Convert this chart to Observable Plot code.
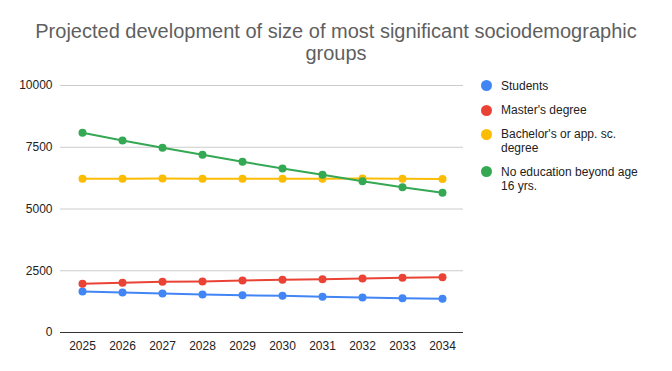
<!DOCTYPE html>
<html>
<head>
<meta charset="utf-8">
<script src="https://cdn.jsdelivr.net/npm/d3@7"></script>
<script src="https://cdn.jsdelivr.net/npm/@observablehq/plot@0.6"></script>
<style>
  html, body { margin: 0; padding: 0; background: #fff; }
  #wrap { position: relative; width: 672px; height: 371px; font-family: "Liberation Sans", Arial, sans-serif; }
  #title { position: absolute; left: 0; top: 20px; width: 672px; text-align: center; font-size: 20px; line-height: 22px; color: #5f5f5f; }
  #chart { position: absolute; left: 0; top: 0; }
  .leg { position: absolute; left: 481px; font-size: 12px; line-height: 14px; color: #222; }
  .leg .sw { position: absolute; left: 0; top: 1.5px; width: 11px; height: 11px; border-radius: 50%; }
  .leg .tx { position: absolute; left: 20px; top: 0; width: 148px; }
</style>
</head>
<body>
<div id="wrap">
  <div id="chart"></div>
  <div id="title">Projected development of size of most significant sociodemographic<br>groups</div>
  <div id="legend"></div>
</div>
<script>
const years = ["2025","2026","2027","2028","2029","2030","2031","2032","2033","2034"];
const seriesNames = ["Students", "Master's degree", "Bachelor's or app. sc. degree", "No education beyond age 16 yrs."];
const colors = ["#4285F4", "#EA4335", "#FBBC04", "#34A853"];
const students = [1660, 1620, 1580, 1540, 1510, 1485, 1445, 1415, 1390, 1365];
const masters = [1970, 2010, 2050, 2065, 2105, 2135, 2160, 2185, 2215, 2240];
const bachelors = [6225, 6225, 6230, 6225, 6225, 6225, 6220, 6230, 6220, 6215];
const noEducation = [8085, 7775, 7480, 7195, 6910, 6640, 6385, 6125, 5885, 5655];
const yTicks = [0, 2500, 5000, 7500, 10000];
const legendTops = [78.7, 103, 127.3, 164.7];

const valueSets = [students, masters, bachelors, noEducation];
const data = [];
seriesNames.forEach((s, i) => years.forEach((y, j) => data.push({series: s, year: y, value: valueSets[i][j]})));

const chart = Plot.plot({
  width: 672,
  height: 371,
  marginTop: 85,
  marginBottom: 39,
  marginLeft: 60,
  marginRight: 209,
  style: {fontFamily: "'Liberation Sans', Arial, sans-serif", fontSize: "12px", color: "#222", background: "transparent"},
  x: {type: "point", domain: years, padding: 0.5, label: null, tickSize: 0, tickPadding: 9},
  y: {domain: [0, 10000], ticks: yTicks, tickFormat: d => String(d), label: null, tickSize: 0, tickPadding: 8},
  color: {domain: seriesNames, range: colors},
  marks: [
    Plot.gridY(yTicks.filter(d => d > 0), {stroke: "#cccccc", strokeOpacity: 1}),
    Plot.axisY({ticks: yTicks, tickFormat: d => String(d), tickSize: 0, tickPadding: 8, label: null}),
    Plot.axisX({tickSize: 0, tickPadding: 9, label: null}),
    Plot.ruleY([0], {stroke: "#333"}),
    Plot.line(data, {x: "year", y: "value", z: "series", stroke: "series", strokeWidth: 2}),
    Plot.dot(data, {x: "year", y: "value", fill: "series", r: 4})
  ]
});
document.getElementById("chart").appendChild(chart);

const legend = document.getElementById("legend");
seriesNames.forEach((s, i) => {
  const d = document.createElement("div");
  d.className = "leg";
  d.style.top = legendTops[i] + "px";
  const sw = document.createElement("div");
  sw.className = "sw";
  sw.style.background = colors[i];
  const tx = document.createElement("div");
  tx.className = "tx";
  tx.textContent = s;
  d.appendChild(sw);
  d.appendChild(tx);
  legend.appendChild(d);
});
</script>
</body>
</html>
